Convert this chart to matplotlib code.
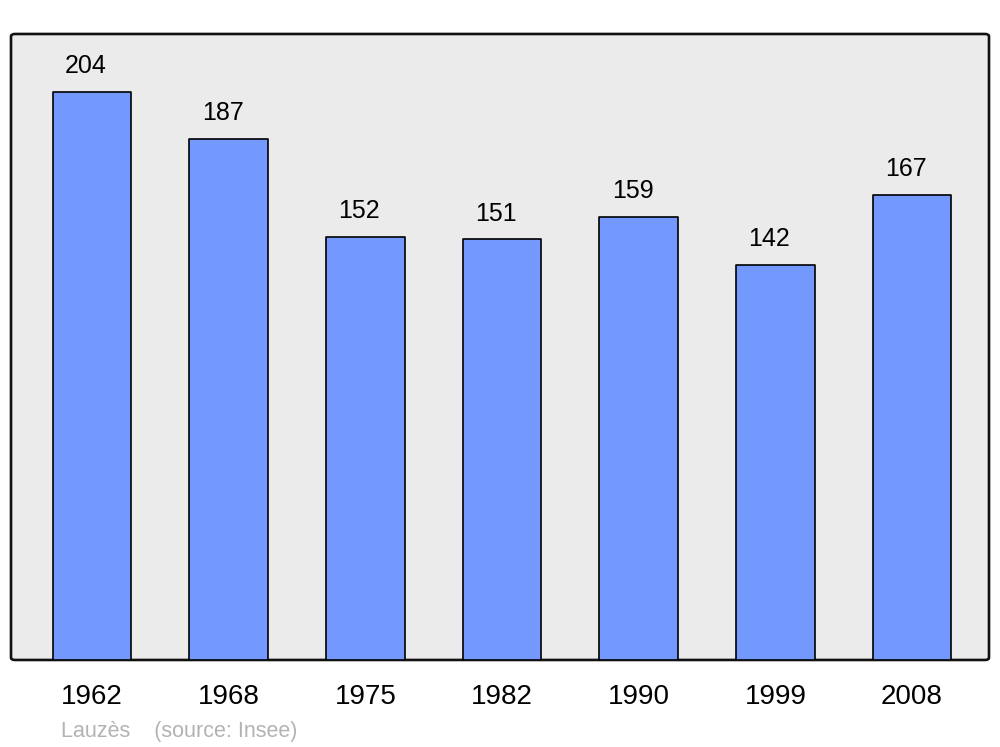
import matplotlib
matplotlib.use("Agg")
import matplotlib.pyplot as plt
from matplotlib.patches import FancyBboxPatch

plt.rcParams['font.family'] = ['Liberation Sans', 'DejaVu Sans']

#Data##########################################################################
years = ["1962", "1968", "1975", "1982", "1990", "1999", "2008"]
population = [204, 187, 152, 151, 159, 142, 167]
town = "Lauzès"
source = "(source: Insee)"

#Figure########################################################################
fig = plt.figure(figsize=(10, 7.47), dpi=100)
ax = fig.add_axes([0.011, 0.1165, 0.978, 0.838])
ax.set_facecolor("none")

# rounded frame with grey background
frame = FancyBboxPatch((0, 0), 1, 1, boxstyle="round,pad=0,rounding_size=0.004",
                       transform=ax.transAxes, facecolor="#ebebeb",
                       edgecolor="#111111", linewidth=1.9, clip_on=False, zorder=0)
ax.add_patch(frame)

x = range(len(years))
bars = ax.bar(x, population, width=0.575, color="#7399ff", edgecolor="black",
              linewidth=1.2, zorder=2)
for b in bars:
    b.set_joinstyle("round")

# value labels sit a little left of the bar centre, as in the original
for xi, v in zip(x, population):
    ax.annotate(str(v), (xi, v), xytext=(-4.3, 13.5), textcoords="offset points",
                ha="center", va="baseline", fontsize=18, color="black")

ax.set_xlim(-0.593, 6.563)
ax.set_ylim(0, 224.8)
ax.set_xticks(list(x))
ax.set_xticklabels(years, fontsize=20)
ax.tick_params(axis="x", length=0, pad=17.5)
ax.set_yticks([])
for s in ax.spines.values():
    s.set_visible(False)

fig.text(0.061, (747 - 732) / 747, town + "    " + source, fontsize=15.5,
         color="#b3b3b3", ha="left", va="center")

fig.savefig("out.png", dpi=100)
